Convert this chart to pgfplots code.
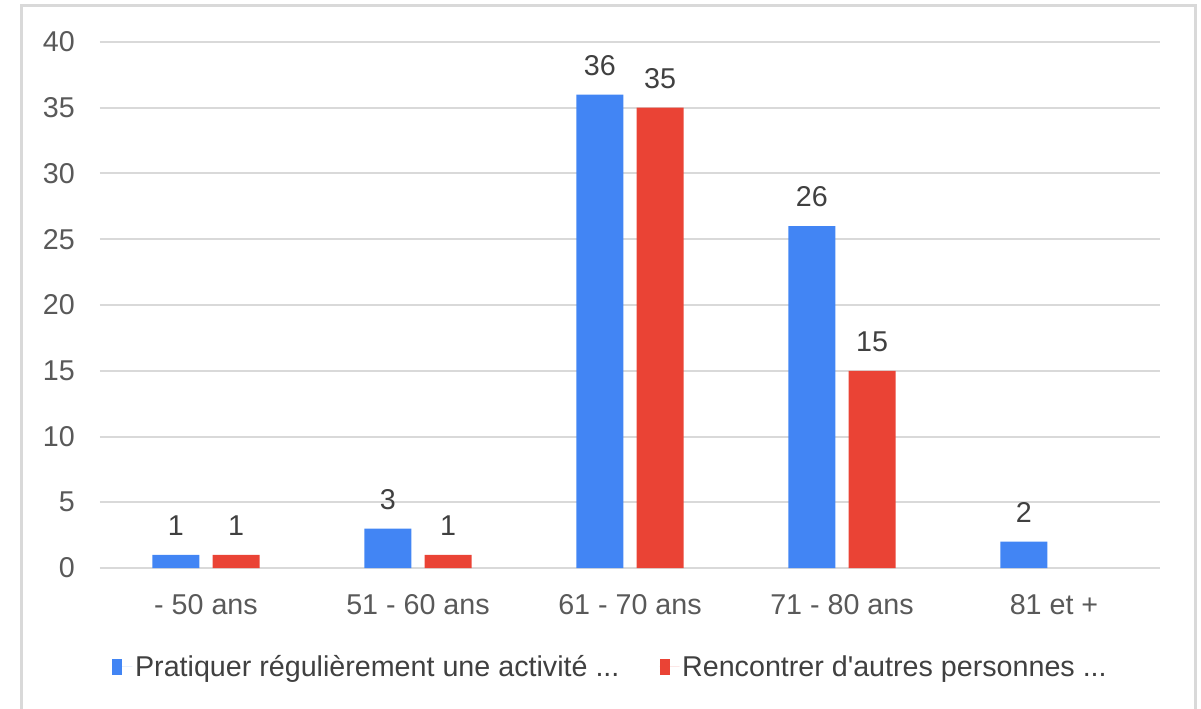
\documentclass[border=0pt]{standalone}
\usepackage{fontspec}
\setmainfont{Liberation Sans}
\usepackage{pgfplots}
\pgfplotsset{compat=1.18}
\definecolor{cblue}{HTML}{4285F4}
\definecolor{cred}{HTML}{EA4335}
\definecolor{cgrid}{HTML}{D9D9D9}
\definecolor{ctick}{HTML}{595959}
\definecolor{clab}{HTML}{404040}
\newcommand\fs{\fontsize{21.5}{26}\selectfont}
\begin{document}
\begin{tikzpicture}
\begin{axis}[
 at={(0,0)}, anchor=south west,
 scale only axis, width=795pt, height=394.5pt,
 xmin=-0.5, xmax=4.5, ymin=0, ymax=40,
 ybar=10pt, bar width=35.25pt,
 xtick={0,...,4},
 xticklabels={- 50 ans, 51 - 60 ans, 61 - 70 ans, 71 - 80 ans, 81 et +},
 ytick={0,5,...,40},
 axis line style={draw=none},
 major tick length=0pt,
 ymajorgrids, grid style={cgrid, line width=1.5pt},
 /pgf/number format/assume math mode=true,
 tick label style={ctick, font=\fs},
 yticklabel style={anchor=east, inner sep=0pt, xshift=-18.75pt},
 xticklabel style={anchor=base, inner sep=0pt, yshift=-34.5pt},
 nodes near coords,
 nodes near coords style={clab, font=\fs, anchor=south, inner sep=0pt, yshift=14pt},
 legend columns=2,
 legend style={at={(0.482,0)}, anchor=center, yshift=-74pt, draw=none, fill=none,
   text=clab, font=\fs, /tikz/every even column/.append style={column sep=28pt}},
 legend image code/.code={\fill[#1] (0pt,-6pt) rectangle (7.5pt,5.5pt); \path (0pt,0pt) -- (15pt,0pt);},
]
\addplot[fill=cblue, draw=none] coordinates {(0,1) (1,3) (2,36) (3,26) (4,2)};
\addlegendentry{Pratiquer régulièrement une activité {.}{.}{.}}
\addplot[fill=cred, draw=none] coordinates {(0,1) (1,1) (2,35) (3,15)};
\addlegendentry{Rencontrer d\textquotesingle autres personnes {.}{.}{.}}
\end{axis}
\draw[cgrid, line width=2.25pt] (-58.875pt,-110pt) -- (-58.875pt,421.875pt) -- (821.625pt,421.875pt) -- (821.625pt,-110pt);
\pgfresetboundingbox
\path (-75pt,-105.75pt) rectangle (825.75pt,426pt);
\end{tikzpicture}
\end{document}
